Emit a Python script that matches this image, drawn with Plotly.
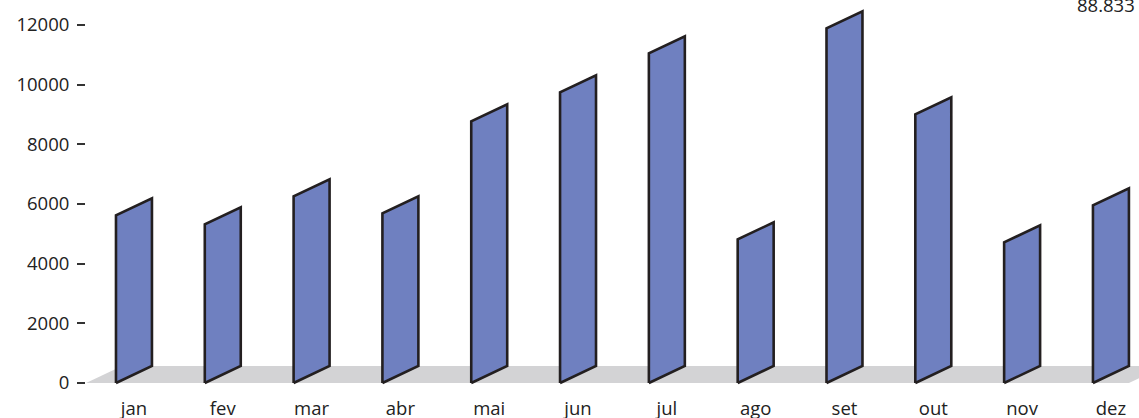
import plotly.graph_objects as go

# Monthly values
months = ["jan", "fev", "mar", "abr", "mai", "jun", "jul", "ago", "set", "out", "nov", "dez"]
values = [5620, 5320, 6260, 5690, 8770, 9745, 11050, 4815, 11890, 9005, 4715, 5953]
y_ticks = [0, 2000, 4000, 6000, 8000, 10000, 12000]
total_label = "88.833"

# Styling of the pseudo-3D bars
BAR_FILL = "#6f80c0"
BAR_EDGE = "#231f20"
FLOOR_FILL = "#d3d3d5"
HALF_W = 0.2025      # half bar width in category units
DEPTH_X = 2 * HALF_W  # horizontal shift of the back edge
DEPTH_Y = 570         # vertical shift of the back edge in value units

fig = go.Figure()

# Floor slab under the bars
x0 = -HALF_W - 0.337
x1 = (len(months) - 1) + HALF_W
fig.add_trace(go.Scatter(
    x=[x0, x1, x1 + DEPTH_X, x0 + DEPTH_X, x0],
    y=[0, 0, DEPTH_Y, DEPTH_Y, 0],
    mode="lines", fill="toself", fillcolor=FLOOR_FILL,
    line=dict(width=0), hoverinfo="skip", showlegend=False,
))

# Skewed bars: front edge at the value, back edge raised by the depth
for i, (m, v) in enumerate(zip(months, values)):
    xl, xr = i - HALF_W, i + HALF_W
    fig.add_trace(go.Scatter(
        x=[xl, xr, xr, xl, xl],
        y=[0, DEPTH_Y, v + DEPTH_Y, v, 0],
        mode="lines", fill="toself", fillcolor=BAR_FILL,
        line=dict(color=BAR_EDGE, width=2.6),
        name=m, hovertemplate=f"{m}: {v}<extra></extra>", showlegend=False,
    ))

font_family = "Open Sans, Liberation Sans, Arial, sans-serif"

fig.update_layout(
    width=1139, height=418,
    margin=dict(l=86, r=0, t=0, b=28, autoexpand=False),
    paper_bgcolor="white", plot_bgcolor="white",
    font=dict(family=font_family, size=18.5, color="#222222"),
    xaxis=dict(
        range=[-0.54, 11.316], automargin=False,
        tickmode="array", tickvals=list(range(len(months))), ticktext=months,
        showgrid=False, zeroline=False, showline=False, ticks="",
        ticklabelstandoff=5,
    ),
    yaxis=dict(
        range=[-235, 12838], automargin=False,
        tickmode="array", tickvals=y_ticks, ticktext=[str(t) for t in y_ticks],
        showgrid=False, zeroline=False, showline=False,
        ticks="outside", ticklen=8, tickwidth=1.5, tickcolor="#333333",
        ticklabelstandoff=4,
    ),
    annotations=[dict(
        text=total_label, xref="paper", yref="paper", x=1, y=1,
        xanchor="right", yanchor="middle", xshift=-2, yshift=-4,
        showarrow=False, font=dict(size=18.5, color="#222222"),
    )],
)

fig.write_html("out.html")
